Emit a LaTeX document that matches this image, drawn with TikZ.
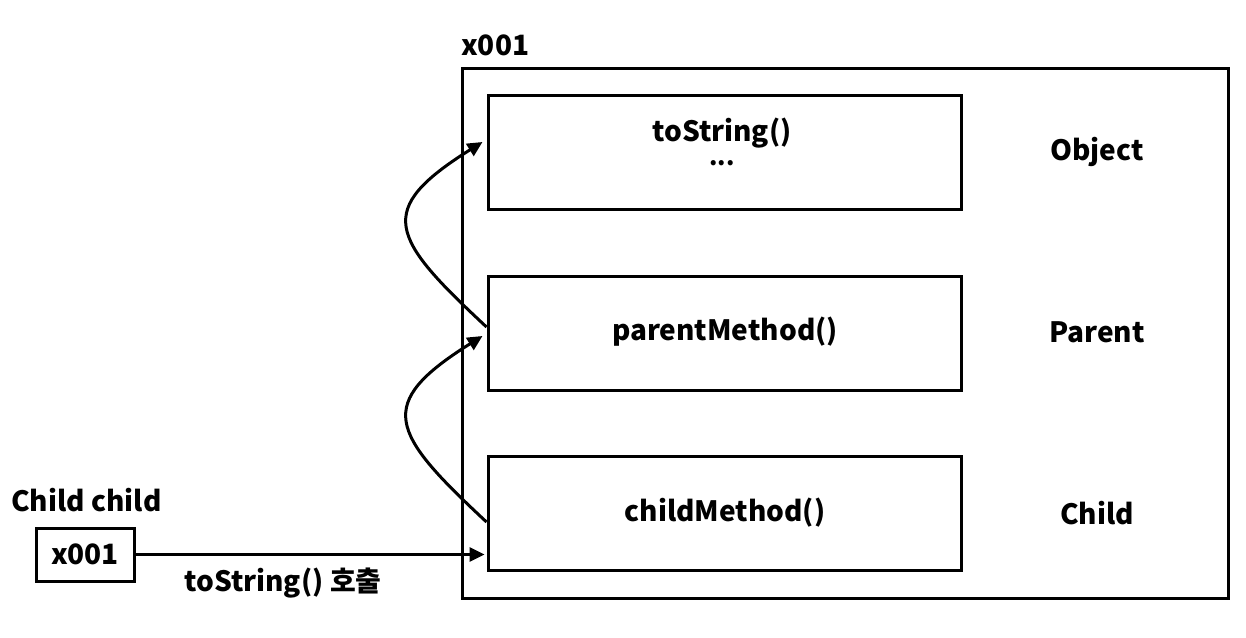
\documentclass[tikz,border=0pt]{standalone}
\usepackage{fontspec}
\setmainfont{Noto Sans CJK KR}
\usetikzlibrary{arrows.meta}
\begin{document}
\begin{tikzpicture}[x=1pt,y=-1pt,
  box/.style={draw, line width=3pt, minimum width=473pt, minimum height=114pt, inner sep=0pt},
  lbl/.style={font=\fontsize{28}{30}\selectfont\bfseries, inner sep=0pt},
  arr/.style={line width=3pt, -{Triangle[length=15pt,width=14pt]}}
]
\useasboundingbox (0,0) rectangle (1246,637);
\node[draw, line width=3pt, minimum width=766pt, minimum height=530pt, inner sep=0pt] (mem) at (845,333) {};
\node[lbl, anchor=west] (memlbl) at (461,45) {x001};
\node[box] (obj) at (724.5,152.5) {};
\node[box] (par) at (724.5,333.5) {};
\node[box] (chi) at (724.5,513.5) {};
\node[lbl] (objm) at (722,133) {toString()};
\node[lbl, font=\fontsize{24}{26}\selectfont\bfseries] (objd) at (722,163) {...};
\node[lbl] (parm) at (725,332) {parentMethod()};
\node[lbl] (chim) at (725,513) {childMethod()};
\node[lbl] (objl) at (1097,152) {Object};
\node[lbl] (parl) at (1097,332) {Parent};
\node[lbl] (chil) at (1097,513) {Child};
\node[lbl, anchor=west] (varl) at (11,500) {Child child};
\node[draw, line width=3pt, minimum width=98pt, minimum height=53pt, inner sep=0pt, font=\fontsize{28}{30}\selectfont\bfseries] (var) at (85,554.5) {x001};
\node[lbl] (call) at (283,583) {toString() 호출};
\draw[arr] (var.east) -- ([xshift=-2pt,yshift=-41pt]chi.west);
\draw[arr] ([yshift=-8.5pt]chi.west) .. controls (390,432) and (374,404) .. ([xshift=-4pt,yshift=-2.5pt]par.west);
\draw[arr] ([yshift=6.5pt]par.west) .. controls (390,237) and (374,210) .. ([xshift=-4pt,yshift=10.5pt]obj.west);
\end{tikzpicture}
\end{document}
